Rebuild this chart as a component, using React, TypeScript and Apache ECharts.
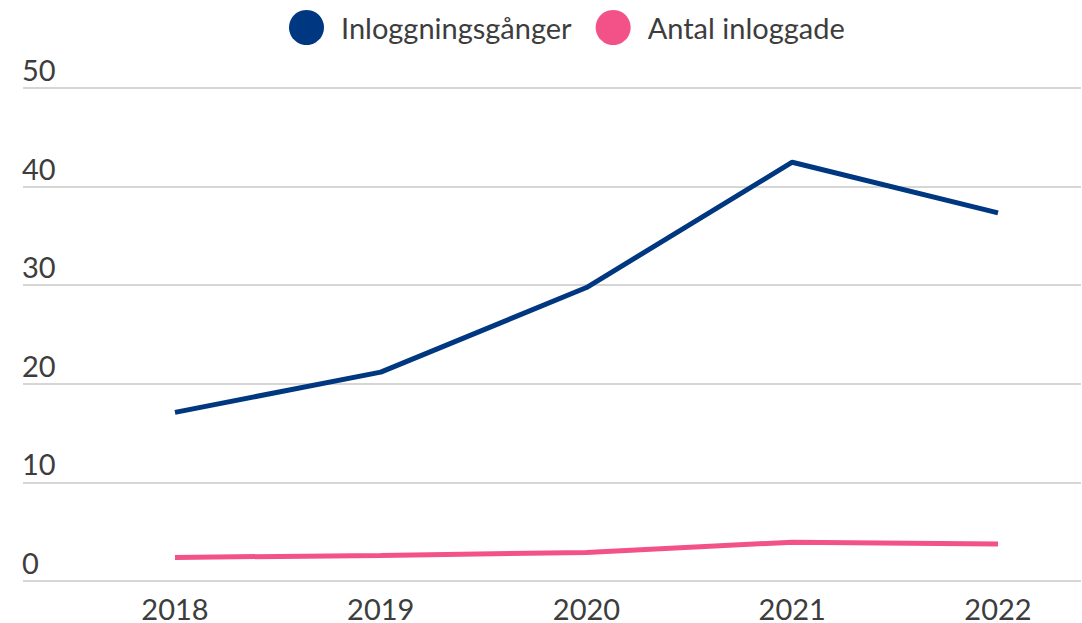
import React, { useEffect, useRef } from "react";
import * as echarts from "echarts";

const years = ["2018", "2019", "2020", "2021", "2022"];
const inloggningar = [17.0, 21.1, 29.7, 42.45, 37.3];
const inloggade = [2.25, 2.45, 2.75, 3.8, 3.6];
const seriesNames = ["Inloggningsgånger", "Antal inloggade"];
const colors = ["#003781", "#f25287"];

export default function App() {
  const ref = useRef<HTMLDivElement>(null);
  useEffect(() => {
    const chart = echarts.init(ref.current!, null, { renderer: "svg" });
    const font = "Lato, 'Noto Sans', sans-serif";
    chart.setOption({
      animation: false,
      textStyle: { fontFamily: font },
      legend: {
        data: seriesNames,
        left: 284,
        top: 5,
        icon: "circle",
        itemWidth: 35,
        itemHeight: 35,
        itemGap: 24,
        textStyle: { fontSize: 29, lineHeight: 29, color: "#3d3d3d", fontFamily: font, padding: [0, 0, 0, 12] },
      },
      grid: [
        { left: 23, right: 1, top: 88, bottom: 42 },
        { left: 175, right: 84, top: 88, bottom: 42 },
      ],
      xAxis: [
        { gridIndex: 0, type: "value", min: 0, max: 1, show: false },
        {
          gridIndex: 1,
          type: "category",
          data: years,
          boundaryGap: false,
          axisLine: { show: false },
          axisTick: { show: false },
          splitLine: { show: false },
          axisLabel: { fontSize: 29, lineHeight: 20, color: "#3d3d3d", margin: 19, fontFamily: font },
        },
      ],
      yAxis: [
        {
          gridIndex: 0,
          type: "value",
          min: 0,
          max: 50,
          interval: 10,
          axisLine: { show: false },
          axisTick: { show: false },
          splitLine: { lineStyle: { color: "#d6d6d6", width: 2 } },
          axisLabel: {
            inside: true,
            margin: -1,
            verticalAlign: "bottom",
            fontSize: 29,
            lineHeight: 29,
            color: "#3d3d3d",
            fontFamily: font,
            padding: [0, 0, 4, 0],
          },
        },
        { gridIndex: 1, type: "value", min: 0, max: 50, show: false },
      ],
      series: [
        {
          name: seriesNames[0],
          type: "line",
          xAxisIndex: 1,
          yAxisIndex: 1,
          data: inloggningar,
          symbol: "none",
          color: colors[0],
          lineStyle: { width: 5, color: colors[0] },
        },
        {
          name: seriesNames[1],
          type: "line",
          xAxisIndex: 1,
          yAxisIndex: 1,
          data: inloggade,
          symbol: "none",
          color: colors[1],
          lineStyle: { width: 5, color: colors[1] },
        },
      ],
    });
    return () => chart.dispose();
  }, []);
  return <div ref={ref} style={{ width: 1082, height: 623, position: "absolute", left: 0, top: 0 }} />;
}
